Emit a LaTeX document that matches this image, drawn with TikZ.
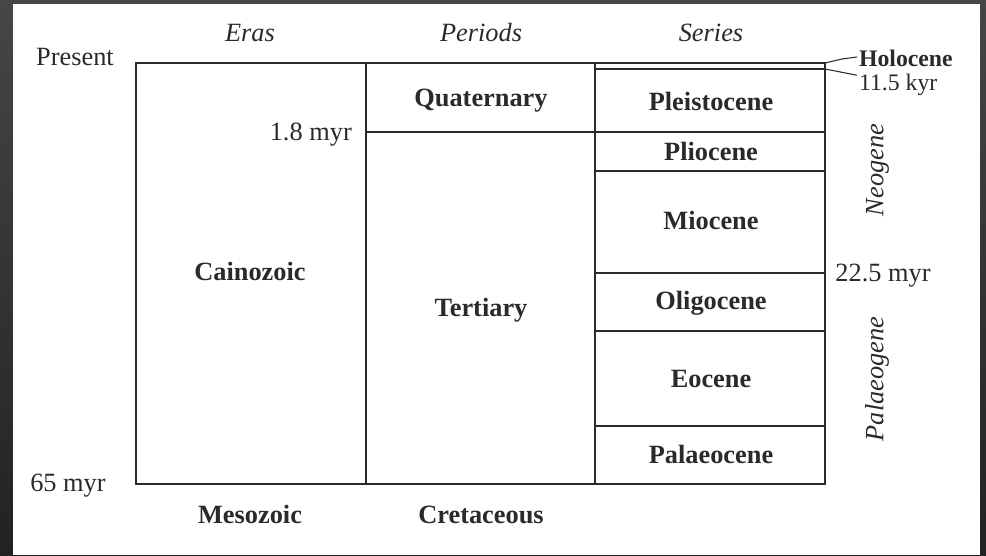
\documentclass[tikz,border=0pt]{standalone}
\usepackage{fontspec}
\setmainfont{Liberation Serif}
\definecolor{frametop}{HTML}{464646}
\definecolor{framebot}{HTML}{222222}
\definecolor{ink}{HTML}{2A2A2A}
\begin{document}
\begin{tikzpicture}[x=0.02cm, y=-0.02cm,
  every node/.style={text height=1.6ex, text depth=0.3ex},
  lbl/.style={font=\fontsize{15}{17}\selectfont\bfseries, text=ink},
  txt/.style={font=\fontsize{15}{17}\selectfont, text=ink},
  side/.style={font=\fontsize{13.5}{15}\selectfont, text=ink, anchor=west, inner sep=1pt},
  head/.style={font=\fontsize{15}{17}\selectfont\itshape, text=ink}]
  \shade[top color=frametop, bottom color=framebot] (0,0) rectangle (986,555);
  \fill[white] (13,4) rectangle (980,555);
  \useasboundingbox (0,0) rectangle (986,555);
  \draw[ink, line width=0.8pt] (136,63) rectangle (825,484);
  \draw[ink, line width=0.6pt] (366,63) -- (366,484);
  \draw[ink, line width=0.6pt] (595,63) -- (595,484);
  \draw[ink, line width=0.6pt] (366,132) -- (825,132);
  \foreach \y in {69,171,273,331,426}
    \draw[ink, line width=0.6pt] (595,\y) -- (825,\y);
  \node[head] (eras) at (250,36) {Eras};
  \node[head] (periods) at (481,36) {Periods};
  \node[head] (series) at (711,36) {Series};
  \node[txt] (present) at (75,60) {Present};
  \node[txt] (base) at (68,486) {65 myr};
  \node[txt, anchor=east] (qbase) at (358,135) {1.8 myr};
  \node[lbl] (cainozoic) at (250,275) {Cainozoic};
  \node[lbl] (quaternary) at (481,101) {Quaternary};
  \node[lbl] (tertiary) at (481,311) {Tertiary};
  \node[lbl] (mesozoic) at (250,518) {Mesozoic};
  \node[lbl] (cretaceous) at (481,518) {Cretaceous};
  \node[lbl] (pleistocene) at (711,105) {Pleistocene};
  \node[lbl] (pliocene) at (711,155) {Pliocene};
  \node[lbl] (miocene) at (711,224) {Miocene};
  \node[lbl] (oligocene) at (711,304) {Oligocene};
  \node[lbl] (eocene) at (711,382) {Eocene};
  \node[lbl] (palaeocene) at (711,458) {Palaeocene};
  \node[side, font=\fontsize{13.5}{15}\selectfont\bfseries] (holocene) at (857,61) {Holocene};
  \node[side] (holoage) at (857,85) {11.5 kyr};
  \node[txt] (split) at (883,276) {22.5 myr};
  \node[head, rotate=90] (neogene) at (878,170) {Neogene};
  \node[head, rotate=90] (palaeogene) at (878,379) {Palaeogene};
  \coordinate (htop) at (825,63);
  \coordinate (hbot) at (825,69);
  \draw[ink, line width=0.6pt] (htop) -- (842,59) -- ([yshift=0.08cm]holocene.west);
  \draw[ink, line width=0.6pt] (hbot) -- (holoage.north west);
\end{tikzpicture}
\end{document}
